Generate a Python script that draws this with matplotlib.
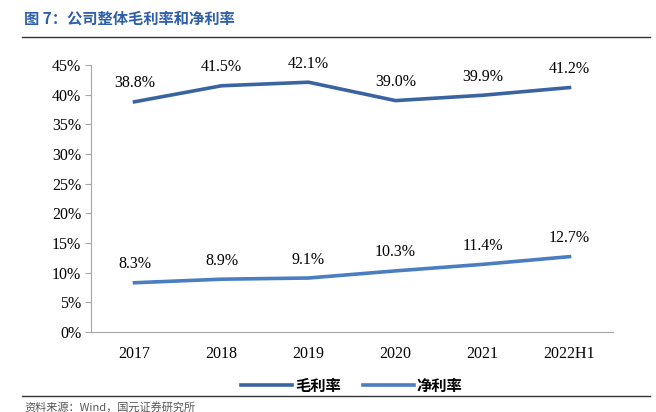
import matplotlib
matplotlib.use("Agg")
import matplotlib.pyplot as plt
from matplotlib.ticker import FuncFormatter

years = ["2017", "2018", "2019", "2020", "2021", "2022H1"]
gross_margin = [38.8, 41.5, 42.1, 39.0, 39.9, 41.2]
net_margin = [8.3, 8.9, 9.1, 10.3, 11.4, 12.7]
yticks = [0, 5, 10, 15, 20, 25, 30, 35, 40, 45]

cjk = ["Noto Sans CJK SC", "DejaVu Sans"]
serif = ["Liberation Serif", "DejaVu Serif"]

fig = plt.figure(figsize=(6.56, 4.12), dpi=100)
ax = fig.add_axes([91 / 656, 1 - 332 / 412, 522 / 656, 267 / 412])

x = range(len(years))
ax.plot(x, gross_margin, color="#3A64A0", lw=2.6, label="毛利率")
ax.plot(x, net_margin, color="#4A7EC0", lw=2.6, label="净利率")

# data labels above each point
for series in (gross_margin, net_margin):
    for i, v in enumerate(series):
        ax.annotate(f"{v:.1f}%", (i, v), xytext=(0, 7.5), textcoords="offset points",
                    ha="center", va="bottom", fontsize=11.5, family=serif)

ax.set_xlim(-0.5, len(years) - 0.5)
ax.set_ylim(0, 45)
ax.set_yticks(yticks)
ax.yaxis.set_major_formatter(FuncFormatter(lambda v, p: f"{v:.0f}%"))
ax.set_xticks(list(x))
ax.set_xticklabels(years)
for lab in ax.get_xticklabels() + ax.get_yticklabels():
    lab.set_family(serif)
    lab.set_fontsize(11.5)

for s in ["top", "right"]:
    ax.spines[s].set_visible(False)
ax.spines["left"].set_color("#A6A6A6")
ax.spines["bottom"].set_color("#A6A6A6")
ax.tick_params(axis="y", length=4, color="#A6A6A6", pad=3)
ax.tick_params(axis="x", length=0, pad=10)

ax.legend(loc="upper center", bbox_to_anchor=(0.5, -0.12), ncol=2, frameon=False,
          prop={"family": cjk, "size": 11, "weight": "bold"},
          handlelength=3.3, columnspacing=1.5, handletextpad=0.2)

fig.text(24 / 656, 1 - 19 / 412, "图 7：公司整体毛利率和净利率", family=cjk, fontsize=11,
         weight="bold", color="#2E5FA8", va="center")
fig.add_artist(plt.Line2D([22 / 656, 650 / 656], [1 - 37 / 412, 1 - 37 / 412],
                          color="#333333", lw=1))
fig.add_artist(plt.Line2D([22 / 656, 650 / 656], [1 - 396 / 412, 1 - 396 / 412],
                          color="#333333", lw=1))
fig.text(24 / 656, 1 - 407 / 412, "资料来源：Wind，国元证券研究所", family=cjk, fontsize=8,
         color="#555555", va="center")

fig.savefig("out.png", dpi=100)
